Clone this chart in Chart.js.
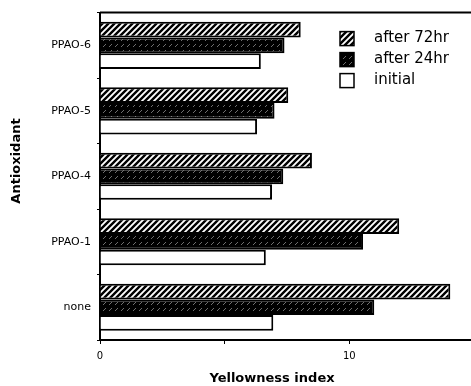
<!DOCTYPE html>
<html>
<head>
<meta charset="utf-8">
<script src="https://cdn.jsdelivr.net/npm/chart.js@4.4.0/dist/chart.umd.min.js"></script>
<style>
  body { margin: 0; background: #fff; }
  #wrap { width: 471px; height: 386px; overflow: hidden; }
</style>
</head>
<body>
<div id="wrap"><canvas id="mycanvas" width="480" height="386"></canvas></div>
<script>
var antioxidants = ['PPAO-6', 'PPAO-5', 'PPAO-4', 'PPAO-1', 'none'];
var after72 = [8.05, 7.55, 8.5, 12.0, 14.05];
var after24 = [7.4, 7.0, 7.35, 10.55, 11.0];
var initial = [6.45, 6.3, 6.9, 6.65, 6.95];
var seriesNames = ['after 72hr', 'after 24hr', 'initial'];
var shownTicks = [0, 10];
var xTitle = 'Yellowness index';
var yTitle = 'Antioxidant';

// fill patterns
function hatch() {
  var c = document.createElement('canvas');
  c.width = 6; c.height = 6;
  var g = c.getContext('2d');
  g.fillStyle = '#fff';
  g.fillRect(0, 0, 6, 6);
  g.strokeStyle = '#000';
  g.lineWidth = 2.4;
  g.beginPath();
  g.moveTo(-1, 7); g.lineTo(7, -1);
  g.moveTo(-1, 1); g.lineTo(1, -1);
  g.moveTo(5, 7); g.lineTo(7, 5);
  g.stroke();
  return g.createPattern(c, 'repeat');
}
function darkHatch() {
  var c = document.createElement('canvas');
  c.width = 6; c.height = 6;
  var g = c.getContext('2d');
  g.fillStyle = '#000';
  g.fillRect(0, 0, 6, 6);
  g.strokeStyle = '#8a8a8a';
  g.lineWidth = 0.8;
  g.beginPath();
  g.moveTo(1, 5); g.lineTo(4, 2);
  g.stroke();
  return g.createPattern(c, 'repeat');
}

// top frame line, legend and axis titles
var frameAndLegend = {
  id: 'frameAndLegend',
  afterDraw: function(chart) {
    var ctx = chart.ctx, a = chart.chartArea;
    ctx.save();
    ctx.strokeStyle = '#000';
    ctx.lineWidth = 2;
    ctx.beginPath();
    ctx.moveTo(a.left, a.top);
    ctx.lineTo(a.right, a.top);
    ctx.stroke();

    ctx.font = '15px "DejaVu Sans"';
    ctx.textBaseline = 'middle';
    ctx.textAlign = 'left';
    chart.data.datasets.forEach(function(ds, i) {
      var y = a.top + 19 + i * 21;
      ctx.fillStyle = ds.backgroundColor;
      ctx.fillRect(340, y, 14, 14);
      ctx.lineWidth = 1.5;
      ctx.strokeStyle = '#000';
      ctx.strokeRect(340, y, 14, 14);
      ctx.fillStyle = '#000';
      ctx.fillText(ds.label, 374, y + 7);
    });

    ctx.font = 'bold 13px "DejaVu Sans"';
    ctx.textAlign = 'center';
    ctx.fillText(xTitle, 272, 379);
    ctx.translate(17, 161);
    ctx.rotate(-Math.PI / 2);
    ctx.fillText(yTitle, 0, 0);
    ctx.restore();
  }
};

var ctx = document.getElementById('mycanvas');

var chartdata = {
  labels: antioxidants,
  datasets: [
    { label: seriesNames[0], data: after72, backgroundColor: hatch(), borderColor: '#000', borderWidth: 2 },
    { label: seriesNames[1], data: after24, backgroundColor: darkHatch(), borderColor: '#000', borderWidth: 2 },
    { label: seriesNames[2], data: initial, backgroundColor: '#fff', borderColor: '#000', borderWidth: 2 }
  ]
};

var barGraph = new Chart(ctx, {
  type: 'bar',
  data: chartdata,
  plugins: [frameAndLegend],
  options: {
    indexAxis: 'y',
    responsive: false,
    animation: false,
    layout: { padding: { top: 10, right: 0, left: 0, bottom: 0 } },
    datasets: {
      bar: { barPercentage: 1.0, categoryPercentage: 0.72 }
    },
    plugins: {
      legend: { display: false },
      tooltip: { enabled: false }
    },
    scales: {
      x: {
        min: 0,
        max: 15,
        afterFit: function(scale) { scale.height = 46; },
        border: { display: true, color: '#000', width: 2 },
        grid: { drawOnChartArea: false, drawTicks: true, tickLength: 4, color: '#000' },
        ticks: {
          stepSize: 5,
          color: '#000',
          padding: 6,
          maxRotation: 0,
          font: { family: 'DejaVu Sans', size: 10 },
          callback: function(v) { return shownTicks.indexOf(v) >= 0 ? v : ''; }
        },
        title: { display: false }
      },
      y: {
        afterFit: function(scale) { scale.width = 100; },
        border: { display: true, color: '#000', width: 2 },
        grid: { drawOnChartArea: false, drawTicks: true, tickLength: 3, color: '#000' },
        ticks: {
          color: '#000',
          padding: 6,
          font: { family: 'DejaVu Sans', size: 11 }
        },
        title: { display: false }
      }
    }
  }
});
</script>
</body>
</html>
